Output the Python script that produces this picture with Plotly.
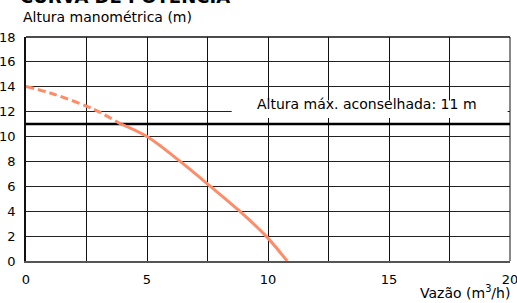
import plotly.graph_objects as go

# Data
flow_dashed = [0, 1, 2.5, 3, 3.93]
head_dashed = [14.03, 13.5, 12.45, 12, 11]
flow_solid = [3.93, 5, 6.37, 7.62, 8.83, 9.92, 10.79]
head_solid = [11, 10, 8, 6, 4, 2, 0]
max_head = 11
x_tickvals = [0, 2.5, 5, 7.5, 10, 12.5, 15, 17.5, 20]
x_ticktext = ["0", "", "5", "", "10", "", "15", "", "20"]
y_tickvals = [0, 2, 4, 6, 8, 10, 12, 14, 16, 18]

FONT = "DejaVu Sans"
curve_color = "#FF8C69"

fig = go.Figure()
fig.add_trace(go.Scatter(x=[0, 20], y=[max_head, max_head], mode="lines",
                         line=dict(color="black", width=2.5), hoverinfo="skip"))
fig.add_trace(go.Scatter(x=flow_dashed, y=head_dashed, mode="lines",
                         line=dict(color=curve_color, width=3, dash="8px,4px", shape="spline")))
fig.add_trace(go.Scatter(x=flow_solid, y=head_solid, mode="lines",
                         line=dict(color=curve_color, width=3, shape="spline")))

fig.add_shape(type="rect", x0=8.5, x1=19.9, y0=11.5, y1=12.9, layer="between",
              fillcolor="white", line=dict(width=0))
fig.add_annotation(x=14.1, y=12.6, xref="x", yref="y", text="Altura máx. aconselhada: 11 m",
                   showarrow=False, font=dict(family=FONT, size=14, color="black"))

fig.add_annotation(x=0, xref="paper", xanchor="left", xshift=-5, y=1, yref="paper",
                   yanchor="bottom", yshift=10, text="Altura manométrica (m)",
                   showarrow=False, font=dict(family=FONT, size=14, color="black"))
fig.add_annotation(x=0, xref="paper", xanchor="left", xshift=-8, y=1, yref="paper",
                   yanchor="bottom", yshift=28, text="<b>CURVA DE POTÊNCIA</b>",
                   showarrow=False, font=dict(family=FONT, size=18, color="black"))
fig.add_annotation(x=1, xref="paper", xanchor="right", xshift=2, y=0, yref="paper",
                   yanchor="bottom", yshift=-42, text="Vazão (m<sup>3</sup>/h)",
                   showarrow=False, font=dict(family=FONT, size=14, color="black"))

fig.update_layout(
    width=517, height=303,
    margin=dict(l=26, r=7, t=37, b=42),
    paper_bgcolor="white", plot_bgcolor="white",
    showlegend=False,
    font=dict(family=FONT, size=13, color="black"),
)
fig.update_xaxes(range=[0, 20], tickvals=x_tickvals, ticktext=x_ticktext,
                 showgrid=True, gridcolor="#111", gridwidth=1.3,
                 showline=True, linecolor="#555", linewidth=1.5, mirror=False,
                 zeroline=False, ticks="", ticklabelstandoff=6, automargin=False,
                 ticklabeloverflow="allow")
fig.update_yaxes(range=[0, 18], tickvals=y_tickvals,
                 showgrid=True, gridcolor="#222", gridwidth=1.3,
                 showline=True, linecolor="#111", linewidth=1.5,
                 zeroline=False, ticks="", ticklabelstandoff=6, automargin=False,
                 ticklabeloverflow="allow")
# right border (gray) and top border
fig.add_shape(type="line", xref="paper", yref="paper", x0=1, x1=1, y0=0, y1=1,
              line=dict(color="#888", width=2), layer="between")
fig.add_shape(type="line", xref="paper", yref="paper", x0=0, x1=1, y0=1, y1=1,
              line=dict(color="#111", width=1.3), layer="between")

fig.write_html("out.html", config={"displayModeBar": False},
               post_script="document.body.style.margin='0';document.body.style.overflow='hidden';")
